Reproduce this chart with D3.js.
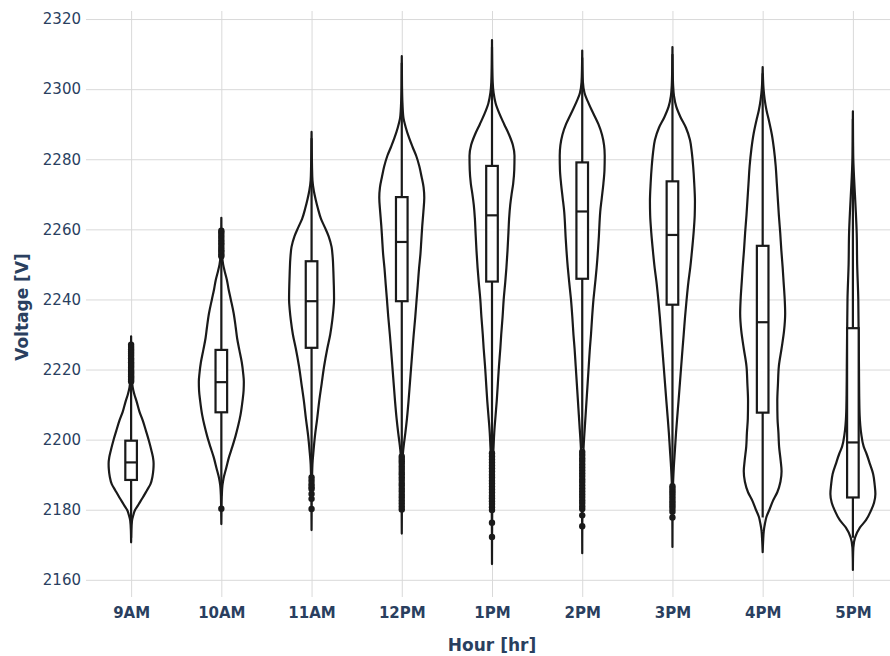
<!DOCTYPE html>
<html>
<head>
<meta charset="utf-8">
<script src="https://cdn.jsdelivr.net/npm/d3@7"></script>
<style>
  html, body { margin: 0; padding: 0; background: #fff; }
  svg { display: block; }
</style>
</head>
<body>
<svg id="chart" width="890" height="656"></svg>
<script>
// Hourly voltage distributions
const hours = ["9AM", "10AM", "11AM", "12PM", "1PM", "2PM", "3PM", "4PM", "5PM"];
const yTicks = [2160, 2180, 2200, 2220, 2240, 2260, 2280, 2300, 2320];

const q1Values     = [2188.5, 2207.8, 2226.2, 2239.5, 2245.1, 2245.9, 2238.5, 2207.7, 2183.5];
const medianValues = [2193.5, 2216.4, 2239.5, 2256.4, 2264.0, 2265.1, 2258.4, 2233.5, 2199.2];
const q3Values     = [2199.7, 2225.6, 2250.9, 2269.2, 2278.1, 2279.1, 2273.7, 2255.3, 2231.8];
const lowerFences  = [2172.0, 2184.0, 2190.5, 2196.0, 2197.0, 2197.5, 2187.2, 2177.8, 2172.0];
const upperFences  = [2216.0, 2252.0, 2286.0, 2307.5, 2312.0, 2309.0, 2310.0, 2304.5, 2291.5];

// outlier readings per hour
const outliers = [
  [2216.6, 2217.1, 2217.6, 2218.0, 2218.5, 2219.0, 2219.4, 2219.9, 2220.5, 2221.0, 2221.6, 2222.1,
   2222.7, 2223.2, 2223.9, 2224.5, 2225.1, 2225.7, 2226.4, 2227.1],
  [2180.3, 2252.3, 2252.9, 2253.6, 2254.1, 2254.8, 2255.6, 2256.2, 2256.9, 2257.7, 2258.4, 2259.1, 2259.6],
  [2180.2, 2183.1, 2184.5, 2185.9, 2186.5, 2187.3, 2188.3, 2189.2],
  [2180.1, 2180.9, 2181.8, 2182.6, 2183.5, 2184.3, 2185.2, 2186.0, 2186.9, 2187.6, 2188.5, 2189.3,
   2190.1, 2190.8, 2191.6, 2192.3, 2193.1, 2193.8, 2194.5, 2195.2],
  [2172.2, 2176.3, 2179.9, 2180.7, 2181.6, 2182.4, 2183.3, 2184.0, 2184.9, 2185.8, 2186.6, 2187.5,
   2188.3, 2189.2, 2190.0, 2190.9, 2191.8, 2192.6, 2193.5, 2194.3, 2195.2, 2196.1],
  [2175.3, 2178.4, 2180.2, 2181.0, 2181.9, 2182.7, 2183.6, 2184.4, 2185.3, 2186.1, 2187.0, 2187.9,
   2188.7, 2189.6, 2190.4, 2191.3, 2192.1, 2193.0, 2193.9, 2194.7, 2195.6, 2196.5],
  [2177.8, 2179.4, 2180.2, 2181.0, 2181.7, 2182.4, 2183.2, 2183.9, 2184.6, 2185.3, 2186.0, 2186.7],
  [],
  []
];

// kernel density outline per hour: [voltage, relative half-width]
const densityProfiles = [
  [[2170.7,0],[2174,0.01],[2176.9,0.04],[2178.5,0.1],[2179.7,0.16],[2181.5,0.33],[2183.5,0.52],[2185.5,0.7],
   [2187.3,0.86],[2189.5,0.95],[2191.5,0.99],[2193.2,1.0],[2195,0.97],[2197,0.9],[2199.7,0.79],[2202.5,0.66],
   [2205.4,0.52],[2208,0.37],[2211,0.24],[2213,0.14],[2215,0.07],[2217,0.035],[2220,0.015],[2224,0.006],[2229.5,0]],
  [[2175.9,0],[2180,0.008],[2184,0.02],[2187,0.05],[2189,0.1],[2192,0.22],[2195,0.34],[2198,0.49],[2201,0.63],
   [2204,0.75],[2207,0.85],[2211,0.94],[2214,0.99],[2216.5,1.0],[2219,0.97],[2222,0.91],[2225.6,0.8],[2229,0.7],
   [2232,0.64],[2236,0.55],[2240,0.42],[2243,0.32],[2245.5,0.25],[2248,0.15],[2250,0.08],[2252,0.04],[2255,0.015],
   [2259,0.006],[2263.3,0]],
  [[2174.2,0],[2180,0.005],[2186,0.012],[2190,0.025],[2193,0.04],[2197,0.09],[2201,0.15],[2206,0.25],[2211,0.34],
   [2216,0.45],[2221,0.56],[2226,0.7],[2230,0.83],[2234,0.92],[2237,0.97],[2240,1.0],[2244,0.99],[2248,0.97],
   [2252,0.94],[2255,0.89],[2258,0.76],[2260.7,0.58],[2263,0.42],[2266,0.28],[2268.3,0.19],[2271,0.1],[2274,0.04],
   [2278,0.02],[2283,0.008],[2287.8,0]],
  [[2173.2,0],[2180,0.005],[2188,0.015],[2193,0.03],[2196,0.05],[2199,0.1],[2202,0.16],[2206,0.23],[2211,0.3],
   [2216,0.36],[2221,0.42],[2226,0.48],[2230,0.53],[2235,0.6],[2240,0.66],[2244,0.71],[2249,0.77],[2253,0.83],
   [2257,0.87],[2261,0.91],[2265,0.96],[2269,1.0],[2272,0.97],[2275,0.88],[2278,0.78],[2281,0.64],[2283.5,0.48],
   [2286,0.33],[2289,0.18],[2292,0.07],[2296,0.03],[2301,0.01],[2309.4,0]],
  [[2164.5,0],[2172,0.003],[2180,0.01],[2188,0.02],[2194,0.04],[2198,0.07],[2202,0.1],[2207,0.16],[2211,0.21],
   [2216,0.26],[2221,0.31],[2226,0.37],[2230,0.41],[2235,0.47],[2240,0.52],[2245,0.59],[2249,0.64],[2254,0.69],
   [2259,0.73],[2263,0.76],[2267,0.81],[2270,0.87],[2273,0.94],[2277,0.99],[2281,1.0],[2284,0.93],[2287,0.76],
   [2290,0.54],[2293,0.33],[2296,0.16],[2299,0.07],[2302,0.03],[2307,0.01],[2314,0]],
  [[2167.6,0],[2175,0.003],[2182,0.01],[2190,0.02],[2195,0.04],[2199,0.07],[2203,0.11],[2207,0.15],[2211,0.19],
   [2216,0.24],[2221,0.29],[2226,0.34],[2230,0.39],[2235,0.44],[2240,0.5],[2245,0.58],[2249,0.64],[2254,0.7],
   [2258,0.74],[2262,0.77],[2265,0.8],[2269,0.87],[2273,0.94],[2277,0.99],[2281,1.0],[2284,0.97],[2287,0.88],
   [2290,0.72],[2293,0.5],[2296,0.28],[2299,0.1],[2302,0.03],[2306,0.01],[2311,0]],
  [[2169.4,0],[2178,0.005],[2186,0.02],[2192,0.06],[2197,0.11],[2202,0.16],[2207,0.22],[2211,0.27],[2216,0.33],
   [2221,0.39],[2226,0.45],[2230,0.5],[2235,0.56],[2240,0.63],[2245,0.71],[2249,0.79],[2254,0.87],[2259,0.94],
   [2264,0.99],[2268,1.0],[2273,0.97],[2278,0.92],[2282,0.86],[2285.5,0.78],[2289,0.6],[2292,0.36],[2295,0.17],
   [2298,0.07],[2301,0.03],[2306,0.01],[2312,0]],
  [[2167.9,0],[2171,0.02],[2174,0.05],[2176,0.1],[2178,0.17],[2180,0.3],[2182.6,0.46],[2185,0.65],[2188,0.79],
   [2191,0.84],[2194,0.8],[2198,0.73],[2202,0.7],[2206,0.66],[2211,0.65],[2216,0.68],[2221,0.72],[2226,0.84],
   [2231,0.95],[2236,1.0],[2240,0.98],[2245,0.93],[2249,0.89],[2254,0.83],[2259,0.78],[2264,0.72],[2268,0.68],
   [2273,0.63],[2278,0.58],[2283,0.5],[2287,0.41],[2291,0.28],[2294,0.17],[2297,0.09],[2300,0.04],[2303,0.015],
   [2306.3,0]],
  [[2162.8,0],[2166,0.005],[2169.2,0.02],[2172.1,0.1],[2174.9,0.31],[2177,0.58],[2179.7,0.8],[2182,0.94],
   [2184.5,1.0],[2187,0.97],[2190.2,0.9],[2193,0.76],[2195.9,0.61],[2198,0.48],[2201.7,0.37],[2207,0.3],
   [2213,0.28],[2220.7,0.27],[2228,0.26],[2234,0.25],[2240,0.24],[2250,0.19],[2258.8,0.17],[2265,0.13],
   [2270,0.09],[2275,0.05],[2279.7,0.02],[2285,0.008],[2293.7,0]]
];

// ---- layout ----
const svg = d3.select("#chart");
const plot = { left: 86, right: 898, top: 11, bottom: 597 };
const ink = "#1a1a1a";
const lineWidth = 2.2;
const fontFamily = "'DejaVu Sans', Verdana, sans-serif";

const x = d3.scalePoint().domain(hours).range([plot.left, plot.right]).padding(0.5);
const y = d3.scaleLinear().domain([2155.1, 2322.3]).range([plot.bottom, plot.top]);
const halfWidth = d3.scaleLinear().domain([0, 1]).range([0, 22.5]);
const boxHalf = 5.8;

// grid lines
const gridColor = "#d9d9d9";
svg.append("g")
  .attr("transform", `translate(${plot.left},0)`)
  .call(d3.axisLeft(y).tickValues(yTicks).tickSize(-(plot.right - plot.left)).tickFormat(""))
  .call(g => g.select(".domain").remove())
  .call(g => g.selectAll("line").attr("stroke", gridColor).attr("stroke-width", 1));

svg.append("g")
  .attr("transform", `translate(0,${plot.bottom})`)
  .call(d3.axisBottom(x).tickSize(-(plot.bottom - plot.top)).tickFormat(""))
  .call(g => g.select(".domain").remove())
  .call(g => g.selectAll("line").attr("stroke", gridColor).attr("stroke-width", 1));

// y tick labels
svg.append("g")
  .attr("transform", `translate(${plot.left},0)`)
  .call(d3.axisLeft(y).tickValues(yTicks).tickSize(0).tickPadding(5).tickFormat(d3.format("d")))
  .call(g => g.select(".domain").remove())
  .call(g => g.selectAll("text").attr("font-family", fontFamily).attr("font-size", 15).attr("fill", "#2a3f5f"));

// x tick labels
svg.append("g")
  .attr("transform", `translate(0,${plot.bottom})`)
  .call(d3.axisBottom(x).tickSize(0).tickPadding(10))
  .call(g => g.select(".domain").remove())
  .call(g => g.selectAll("text").attr("font-family", fontFamily).attr("font-size", 15)
    .attr("font-weight", "bold").attr("fill", "#2a3f5f"));

// axis titles
svg.append("text")
  .attr("x", (plot.left + plot.right) / 2).attr("y", 651)
  .attr("text-anchor", "middle")
  .attr("font-family", fontFamily).attr("font-size", 17).attr("font-weight", "bold")
  .attr("fill", "#2a3f5f")
  .text("Hour [hr]");

svg.append("text")
  .attr("transform", `translate(28,${(plot.top + plot.bottom) / 2 + 3}) rotate(-90)`)
  .attr("text-anchor", "middle")
  .attr("font-family", fontFamily).attr("font-size", 17).attr("font-weight", "bold")
  .attr("fill", "#2a3f5f")
  .text("Voltage [V]");

// violins
const violins = svg.append("g");
hours.forEach((h, i) => {
  const cx = x(h);
  const g = violins.append("g");

  const area = d3.area()
    .curve(d3.curveMonotoneY)
    .y(d => y(d[0]))
    .x0(d => cx - halfWidth(d[1]))
    .x1(d => cx + halfWidth(d[1]));

  g.append("path")
    .datum(densityProfiles[i])
    .attr("d", area)
    .attr("fill", "none")
    .attr("stroke", ink)
    .attr("stroke-width", lineWidth)
    .attr("stroke-linejoin", "round");

  // whiskers
  g.append("line")
    .attr("x1", cx).attr("x2", cx)
    .attr("y1", y(lowerFences[i])).attr("y2", y(q1Values[i]))
    .attr("stroke", ink).attr("stroke-width", lineWidth);
  g.append("line")
    .attr("x1", cx).attr("x2", cx)
    .attr("y1", y(q3Values[i])).attr("y2", y(upperFences[i]))
    .attr("stroke", ink).attr("stroke-width", lineWidth);

  // inner box
  g.append("rect")
    .attr("x", cx - boxHalf).attr("width", boxHalf * 2)
    .attr("y", y(q3Values[i])).attr("height", y(q1Values[i]) - y(q3Values[i]))
    .attr("fill", "#fff").attr("stroke", ink).attr("stroke-width", lineWidth);
  g.append("line")
    .attr("x1", cx - boxHalf).attr("x2", cx + boxHalf)
    .attr("y1", y(medianValues[i])).attr("y2", y(medianValues[i]))
    .attr("stroke", ink).attr("stroke-width", lineWidth);

  // outliers
  g.selectAll("circle")
    .data(outliers[i])
    .join("circle")
    .attr("cx", cx).attr("cy", d => y(d))
    .attr("r", 3.2)
    .attr("fill", ink);
});
</script>
</body>
</html>
